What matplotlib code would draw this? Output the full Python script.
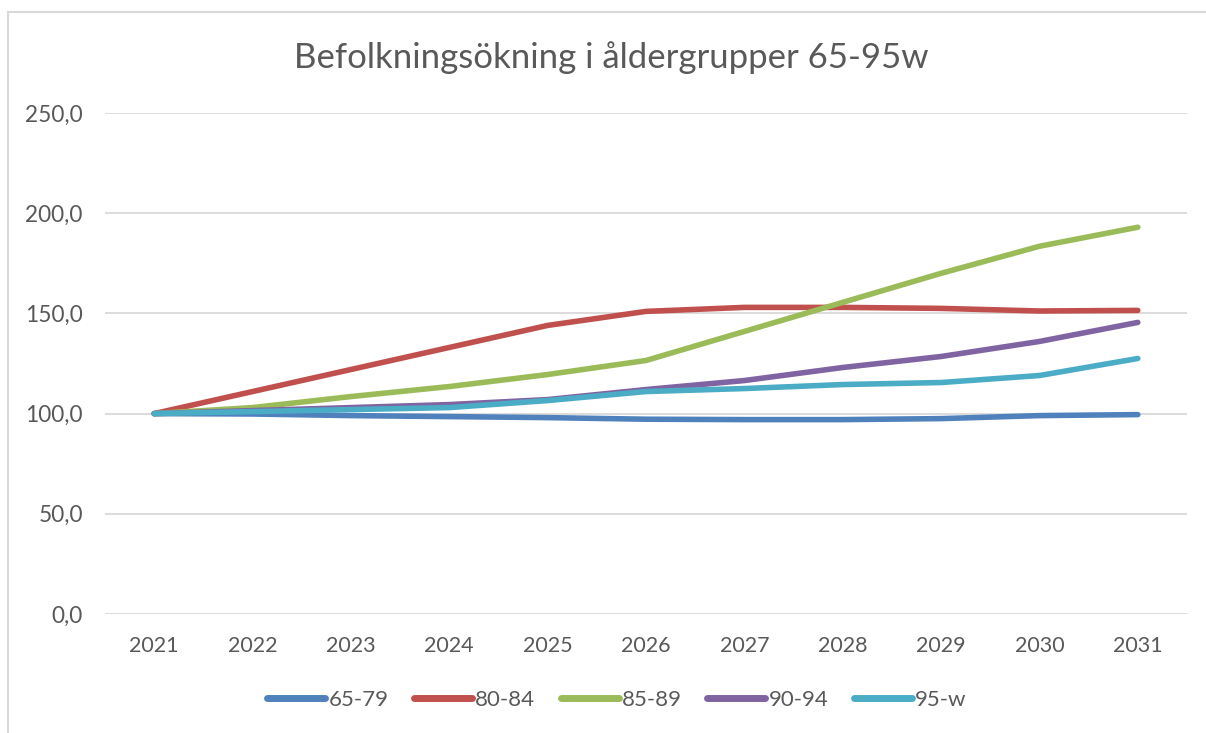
import matplotlib
matplotlib.use("Agg")
import matplotlib.pyplot as plt
from matplotlib.patches import Rectangle

plt.rcParams['font.family'] = ['Lato', 'DejaVu Sans']

years = ["2021", "2022", "2023", "2024", "2025", "2026", "2027", "2028", "2029", "2030", "2031"]
s_65_79 = [100.0, 99.8, 99.0, 98.5, 98.0, 97.2, 97.0, 97.0, 97.5, 99.0, 99.5]
s_80_84 = [100.0, 111.0, 122.0, 133.0, 144.0, 151.0, 153.0, 153.0, 152.5, 151.2, 151.5]
s_85_89 = [100.0, 103.0, 108.5, 113.5, 119.5, 126.5, 141.0, 155.5, 170.0, 183.5, 193.0]
s_90_94 = [100.0, 101.5, 103.0, 104.5, 107.0, 112.0, 116.5, 123.0, 128.5, 136.0, 145.5]
s_95_w = [100.0, 101.0, 102.0, 103.0, 106.5, 111.0, 112.5, 114.5, 115.5, 119.0, 127.5]

labels = ["65-79", "80-84", "85-89", "90-94", "95-w"]
series = [s_65_79, s_80_84, s_85_89, s_90_94, s_95_w]
colors = ["#4F81BD", "#C0504D", "#9BBB59", "#8064A2", "#4BACC6"]
yticks = [0, 50, 100, 150, 200, 250]

fig = plt.figure(figsize=(12.06, 7.33), dpi=100)
fig.patch.set_facecolor("white")
# outer chart border
fig.add_artist(Rectangle((8 / 1206, -0.01), 1.05, 1 - 12 / 733 + 0.01, transform=fig.transFigure,
                         fill=False, edgecolor="#d9d9d9", linewidth=1.5))

ax = fig.add_axes([105 / 1206, 1 - 614 / 733, (1187 - 105) / 1206, (614 - 113) / 733])
x = list(range(len(years)))
for vals, lab, col in zip(series, labels, colors):
    ax.plot(x, vals, color=col, linewidth=4.0, label=lab, solid_capstyle="round",
            solid_joinstyle="round")

ax.set_xlim(-0.5, len(years) - 0.5)
ax.set_ylim(0, 250)
ax.set_yticks(yticks)
ax.set_yticklabels([f"{v:.1f}".replace(".", ",") for v in yticks])
ax.set_xticks(x)
ax.set_xticklabels(years)
ax.tick_params(axis="y", length=0, labelsize=16.3, colors="#595959", pad=16)
ax.tick_params(axis="x", length=0, labelsize=15.5, colors="#595959", pad=16)
ax.grid(axis="y", color="#d9d9d9", linewidth=1.3)
ax.set_axisbelow(True)
for sp in ax.spines.values():
    sp.set_visible(False)

fig.text(611 / 1206, 1 - 58 / 733, "Befolkningsökning i åldergrupper 65-95w", ha="center", va="center",
         fontsize=25, color="#595959")

leg = fig.legend(loc="center", bbox_to_anchor=(617 / 1206, 1 - 700 / 733), ncol=5, frameon=False,
                 fontsize=16, handlelength=2.6, handletextpad=0.15, columnspacing=1.15)
for t in leg.get_texts():
    t.set_color("#595959")
for h in leg.get_lines():
    h.set_linewidth(5)
    h.set_solid_capstyle("round")

fig.savefig("out.png", dpi=100)
